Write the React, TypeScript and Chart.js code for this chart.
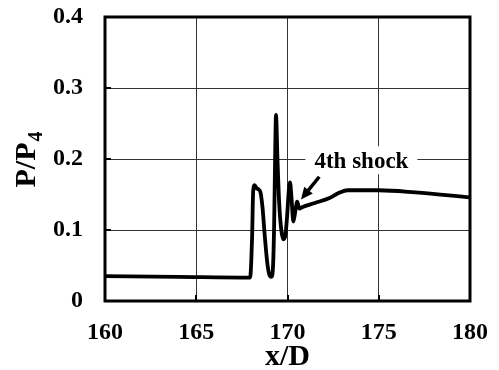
import React, { useEffect, useRef } from "react";
import { Chart, registerables } from "chart.js";

Chart.register(...registerables);

// ---- data ----
const xValues = [
  160, 164, 167.95, 168.06, 168.12, 168.2, 168.3, 168.42, 168.52, 168.63, 168.76, 168.9,
  169.02, 169.12, 169.2, 169.27, 169.32, 169.37, 169.45, 169.55, 169.67, 169.78, 169.88,
  169.98, 170.07, 170.14, 170.22, 170.32, 170.42, 170.53, 170.65, 170.8, 171.5, 172.3,
  172.8, 173.3, 175, 177, 180,
];
const pValues = [
  0.035, 0.034, 0.033, 0.09, 0.155, 0.163, 0.159, 0.157, 0.153, 0.132, 0.09, 0.052,
  0.036, 0.034, 0.045, 0.11, 0.2, 0.262, 0.2, 0.135, 0.098, 0.087, 0.092,
  0.12, 0.155, 0.167, 0.145, 0.112, 0.125, 0.14, 0.13, 0.132, 0.138, 0.145,
  0.152, 0.156, 0.156, 0.153, 0.146,
];
const xTicks = [160, 165, 170, 175, 180];
const yTicks = [0, 0.1, 0.2, 0.3, 0.4];
const xTitle = "x/D";
const yTitleMain = "P/P";
const yTitleSub = "4";
const annotationText = "4th shock";
const annotationAnchor = [174.05, 0.187];
const arrowTail = [171.74, 0.175];
const arrowTip = [170.74, 0.143];

const FONT = '"Liberation Serif", "Times New Roman", serif';

const decorPlugin = {
  id: "decor",
  afterDraw(chart: any) {
    const { ctx, chartArea, scales } = chart;
    const { left, top, right, bottom } = chartArea;
    const xs = scales.x;
    const ys = scales.y;
    ctx.save();

    // annotation text with white box
    ctx.font = `bold 23px ${FONT}`;
    const tx = xs.getPixelForValue(annotationAnchor[0]);
    const ty = ys.getPixelForValue(annotationAnchor[1]);
    const tw = ctx.measureText(annotationText).width;
    ctx.fillStyle = "#fff";
    ctx.fillRect(tx - tw / 2 - 9, ty - 22, tw + 18, 28);
    ctx.fillStyle = "#000";
    ctx.textAlign = "center";
    ctx.textBaseline = "alphabetic";
    ctx.fillText(annotationText, tx, ty);

    // arrow
    const ax0 = xs.getPixelForValue(arrowTail[0]);
    const ay0 = ys.getPixelForValue(arrowTail[1]);
    const ax1 = xs.getPixelForValue(arrowTip[0]);
    const ay1 = ys.getPixelForValue(arrowTip[1]);
    const ang = Math.atan2(ay1 - ay0, ax1 - ax0);
    const headLen = 12;
    const headHalf = 5.5;
    const bx = ax1 - headLen * Math.cos(ang);
    const by = ay1 - headLen * Math.sin(ang);
    ctx.strokeStyle = "#000";
    ctx.lineWidth = 3.5;
    ctx.beginPath();
    ctx.moveTo(ax0, ay0);
    ctx.lineTo(bx + 2 * Math.cos(ang), by + 2 * Math.sin(ang));
    ctx.stroke();
    ctx.beginPath();
    ctx.moveTo(ax1, ay1);
    ctx.lineTo(bx + headHalf * Math.sin(ang), by - headHalf * Math.cos(ang));
    ctx.lineTo(bx - headHalf * Math.sin(ang), by + headHalf * Math.cos(ang));
    ctx.closePath();
    ctx.fillStyle = "#000";
    ctx.fill();

    // frame
    ctx.lineWidth = 3;
    ctx.strokeStyle = "#000";
    ctx.strokeRect(left, top, right - left, bottom - top);

    // inward tick marks
    ctx.lineWidth = 2;
    ctx.beginPath();
    for (const v of xTicks) {
      const px = Math.round(xs.getPixelForValue(v));
      ctx.moveTo(px, bottom);
      ctx.lineTo(px, bottom - 6);
    }
    for (const v of yTicks) {
      const py = Math.round(ys.getPixelForValue(v));
      ctx.moveTo(left, py);
      ctx.lineTo(left + 6, py);
    }
    ctx.stroke();

    // x title
    ctx.fillStyle = "#000";
    ctx.font = `bold 30px ${FONT}`;
    ctx.textAlign = "center";
    ctx.textBaseline = "alphabetic";
    ctx.fillText(xTitle, (left + right) / 2, 365);

    // y title (rotated, with subscript)
    ctx.save();
    ctx.translate(35, 160);
    ctx.rotate(-Math.PI / 2);
    ctx.font = `bold 30px ${FONT}`;
    const wMain = ctx.measureText(yTitleMain).width;
    ctx.font = `bold 20px ${FONT}`;
    const wSub = ctx.measureText(yTitleSub).width;
    const start = -(wMain + wSub) / 2;
    ctx.textAlign = "left";
    ctx.font = `bold 30px ${FONT}`;
    ctx.fillText(yTitleMain, start, 0);
    ctx.font = `bold 20px ${FONT}`;
    ctx.fillText(yTitleSub, start + wMain + 1, 7);
    ctx.restore();

    ctx.restore();
  },
};

export default function App() {
  const canvasRef = useRef<HTMLCanvasElement | null>(null);

  useEffect(() => {
    if (!canvasRef.current) return;
    const points = xValues.map((x, i) => ({ x, y: pValues[i] }));
    const chart = new Chart(canvasRef.current, {
      type: "line",
      data: {
        datasets: [
          {
            data: points,
            borderColor: "#000",
            borderWidth: 3.8,
            pointRadius: 0,
            fill: false,
            cubicInterpolationMode: "monotone",
          } as any,
        ],
      },
      options: {
        animation: false,
        responsive: true,
        maintainAspectRatio: false,
        layout: { padding: { top: 17, right: 29, left: 0, bottom: 0 } },
        plugins: {
          legend: { display: false },
          tooltip: { enabled: false },
        },
        scales: {
          x: {
            type: "linear",
            min: 160,
            max: 180,
            afterBuildTicks: (scale: any) => {
              scale.ticks = xTicks.map((v) => ({ value: v }));
            },
            afterFit: (scale: any) => {
              scale.height = 69;
              scale.paddingLeft = 0;
              scale.paddingRight = 0;
            },
            grid: { color: "#333", lineWidth: 1, drawTicks: false },
            border: { display: false },
            ticks: {
              autoSkip: false,
              maxRotation: 0,
              padding: 17,
              color: "#000",
              font: { family: FONT, size: 24, weight: "bold" },
            },
          },
          y: {
            type: "linear",
            min: 0,
            max: 0.4,
            afterBuildTicks: (scale: any) => {
              scale.ticks = yTicks.map((v) => ({ value: v }));
            },
            afterFit: (scale: any) => {
              scale.width = 105;
              scale.paddingTop = 0;
              scale.paddingBottom = 0;
            },
            grid: { color: "#333", lineWidth: 1, drawTicks: false },
            border: { display: false },
            ticks: {
              autoSkip: false,
              padding: 22,
              color: "#000",
              font: { family: FONT, size: 24, weight: "bold" },
              callback: (v: any) => String(Math.round(Number(v) * 10) / 10),
            },
          },
        },
      } as any,
      plugins: [decorPlugin],
    });
    return () => chart.destroy();
  }, []);

  return (
    <div style={{ position: "absolute", left: 0, top: 0, width: 499, height: 370, background: "#fff" }}>
      <canvas ref={canvasRef} />
    </div>
  );
}
